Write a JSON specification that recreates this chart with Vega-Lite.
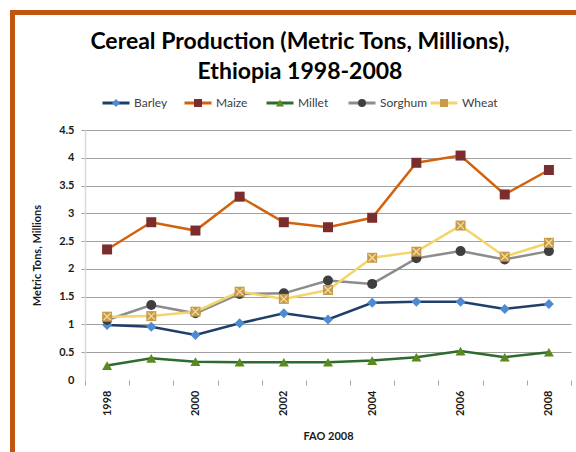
{
  "$schema": "https://vega.github.io/schema/vega-lite/v6.json",
  "autosize": {"type": "none"},
  "width": 486,
  "height": 250,
  "padding": {"left": 85, "top": 130, "right": 5, "bottom": 72},
  "background": "white",
  "title": {
    "text": ["Cereal Production (Metric Tons, Millions),", "Ethiopia 1998-2008"],
    "font": "Lato",
    "fontSize": 23,
    "fontWeight": "bold",
    "color": "#000000",
    "anchor": "middle",
    "frame": "group",
    "dx": -28,
    "offset": -74,
    "lineHeight": 30
  },
  "data": {
    "values": [
      {"year": "1998", "crop": "Barley", "value": 0.99},
      {"year": "1999", "crop": "Barley", "value": 0.96},
      {"year": "2000", "crop": "Barley", "value": 0.81},
      {"year": "2001", "crop": "Barley", "value": 1.02},
      {"year": "2002", "crop": "Barley", "value": 1.2},
      {"year": "2003", "crop": "Barley", "value": 1.09},
      {"year": "2004", "crop": "Barley", "value": 1.39},
      {"year": "2005", "crop": "Barley", "value": 1.41},
      {"year": "2006", "crop": "Barley", "value": 1.41},
      {"year": "2007", "crop": "Barley", "value": 1.28},
      {"year": "2008", "crop": "Barley", "value": 1.37},
      {"year": "1998", "crop": "Maize", "value": 2.35},
      {"year": "1999", "crop": "Maize", "value": 2.84},
      {"year": "2000", "crop": "Maize", "value": 2.69},
      {"year": "2001", "crop": "Maize", "value": 3.3},
      {"year": "2002", "crop": "Maize", "value": 2.84},
      {"year": "2003", "crop": "Maize", "value": 2.75},
      {"year": "2004", "crop": "Maize", "value": 2.92},
      {"year": "2005", "crop": "Maize", "value": 3.91},
      {"year": "2006", "crop": "Maize", "value": 4.04},
      {"year": "2007", "crop": "Maize", "value": 3.34},
      {"year": "2008", "crop": "Maize", "value": 3.78},
      {"year": "1998", "crop": "Millet", "value": 0.26},
      {"year": "1999", "crop": "Millet", "value": 0.39},
      {"year": "2000", "crop": "Millet", "value": 0.33},
      {"year": "2001", "crop": "Millet", "value": 0.32},
      {"year": "2002", "crop": "Millet", "value": 0.32},
      {"year": "2003", "crop": "Millet", "value": 0.32},
      {"year": "2004", "crop": "Millet", "value": 0.35},
      {"year": "2005", "crop": "Millet", "value": 0.41},
      {"year": "2006", "crop": "Millet", "value": 0.52},
      {"year": "2007", "crop": "Millet", "value": 0.41},
      {"year": "2008", "crop": "Millet", "value": 0.5},
      {"year": "1998", "crop": "Sorghum", "value": 1.08},
      {"year": "1999", "crop": "Sorghum", "value": 1.35},
      {"year": "2000", "crop": "Sorghum", "value": 1.2},
      {"year": "2001", "crop": "Sorghum", "value": 1.55},
      {"year": "2002", "crop": "Sorghum", "value": 1.56},
      {"year": "2003", "crop": "Sorghum", "value": 1.79},
      {"year": "2004", "crop": "Sorghum", "value": 1.73},
      {"year": "2005", "crop": "Sorghum", "value": 2.19},
      {"year": "2006", "crop": "Sorghum", "value": 2.32},
      {"year": "2007", "crop": "Sorghum", "value": 2.17},
      {"year": "2008", "crop": "Sorghum", "value": 2.32},
      {"year": "1998", "crop": "Wheat", "value": 1.14},
      {"year": "1999", "crop": "Wheat", "value": 1.15},
      {"year": "2000", "crop": "Wheat", "value": 1.23},
      {"year": "2001", "crop": "Wheat", "value": 1.59},
      {"year": "2002", "crop": "Wheat", "value": 1.46},
      {"year": "2003", "crop": "Wheat", "value": 1.62},
      {"year": "2004", "crop": "Wheat", "value": 2.2},
      {"year": "2005", "crop": "Wheat", "value": 2.31},
      {"year": "2006", "crop": "Wheat", "value": 2.78},
      {"year": "2007", "crop": "Wheat", "value": 2.22},
      {"year": "2008", "crop": "Wheat", "value": 2.47}
    ]
  },
  "encoding": {
    "x": {
      "field": "year",
      "type": "ordinal",
      "scale": {"type": "band", "paddingInner": 0, "paddingOuter": 0},
      "axis": {
        "title": "FAO 2008",
        "titleFontSize": 11,
        "titleFontWeight": "bold",
        "titleColor": "#1a1a1a",
        "titlePadding": 15,
        "labelAngle": -90,
        "labelFontSize": 11,
        "labelFontWeight": "bold",
        "labelColor": "#1a1a1a",
        "labelPadding": 5,
        "labelOverlap": false,
        "labelExpr": "(+datum.value) % 2 === 0 ? datum.label : ''",
        "tickBand": "extent",
        "ticks": true,
        "tickSize": 5,
        "tickColor": "#A6A6A6",
        "tickWidth": 1,
        "domain": false,
        "grid": false
      }
    },
    "y": {
      "field": "value",
      "type": "quantitative",
      "scale": {"domain": [0, 4.5], "nice": false},
      "axis": {
        "title": "Metric Tons, Millions",
        "titleFontSize": 11,
        "titleFontWeight": "bold",
        "titleColor": "#1a1a1a",
        "titlePadding": 16,
        "values": [0, 0.5, 1, 1.5, 2, 2.5, 3, 3.5, 4, 4.5],
        "format": "~g",
        "labelFontSize": 11,
        "labelFontWeight": "bold",
        "labelColor": "#1a1a1a",
        "labelPadding": 7,
        "tickSize": 4,
        "tickColor": "#A0A0A0",
        "tickOpacity": {"condition": {"test": "datum.value === 0", "value": 0}, "value": 1},
        "grid": true,
        "gridColor": "#A0A0A0",
        "gridWidth": 1.2,
        "gridOpacity": {"condition": {"test": "datum.value === 0", "value": 0}, "value": 1},
        "domainColor": "#D9D9D9",
        "domainWidth": 1.5
      }
    }
  },
  "layer": [
    {
      "mark": {"type": "line", "strokeWidth": 2.5},
      "encoding": {
        "color": {
          "field": "crop",
          "type": "nominal",
          "scale": {
            "domain": ["Barley", "Maize", "Millet", "Sorghum", "Wheat"],
            "range": ["#1F3F6A", "#D2620E", "#2E6B2E", "#8C8C8C", "#F3D56A"]
          },
          "legend": {
            "orient": "none",
            "legendX": 16,
            "legendY": -33,
            "direction": "horizontal",
            "title": null,
            "symbolType": "stroke",
            "symbolSize": 729,
            "symbolStrokeWidth": 3,
            "clipHeight": 12,
            "labelOffset": 3,
            "columnPadding": 1,
            "gridAlign": "all",
            "labelFont": "Lato",
            "labelFontSize": 12,
            "labelColor": "#404040",
            "zindex": 0
          }
        }
      }
    },
    {
      "mark": {"type": "point", "filled": true, "size": 100, "opacity": 1},
      "encoding": {
        "fill": {
          "field": "crop",
          "type": "nominal",
          "scale": {"range": ["#4F8BD0", "#7B2C2C", "#5A8A1E", "#3F3F3F", "#C89A4E"]},
          "legend": {
            "orient": "none",
            "legendX": 16,
            "legendY": -33,
            "direction": "horizontal",
            "title": null,
            "symbolSize": 64,
            "symbolStrokeColor": "transparent",
            "symbolStrokeWidth": 22,
            "clipHeight": 12,
            "labelOffset": 0,
            "labelExpr": "''",
            "columnPadding": 52,
            "gridAlign": "all",
            "labelFontSize": 12,
            "zindex": 1
          }
        },
        "shape": {
          "field": "crop",
          "type": "nominal",
          "scale": {"range": ["diamond", "square", "triangle-up", "circle", "square"]},
          "legend": {
            "orient": "none",
            "legendX": 16,
            "legendY": -33,
            "direction": "horizontal",
            "title": null,
            "symbolSize": 64,
            "symbolStrokeColor": "transparent",
            "symbolStrokeWidth": 22,
            "clipHeight": 12,
            "labelOffset": 0,
            "labelExpr": "''",
            "columnPadding": 52,
            "gridAlign": "all",
            "labelFontSize": 12,
            "zindex": 1
          }
        }
      }
    },
    {
      "transform": [{"filter": "datum.crop === 'Wheat'"}],
      "mark": {
        "type": "point",
        "shape": "M-0.7,-0.7L0.7,0.7M0.7,-0.7L-0.7,0.7",
        "filled": false,
        "size": 100,
        "stroke": "#F6E3A0",
        "strokeWidth": 1.2
      },
      "encoding": {
        "opacity": {
          "field": "crop",
          "type": "ordinal",
          "scale": {"range": [1, 1]},
          "legend": {
            "orient": "none",
            "legendX": -72.5,
            "legendY": -117.5,
            "title": null,
            "padding": 340,
            "strokeColor": "#BF5510",
            "symbolSize": 0,
            "symbolStrokeWidth": 0,
            "symbolStrokeColor": "transparent",
            "symbolFillColor": "transparent",
            "symbolOpacity": 0,
            "labelExpr": "''",
            "zindex": 0
          }
        }
      }
    }
  ],
  "config": {
    "font": "Lato",
    "view": {"stroke": null},
    "legend": {"strokeWidth": 5}
  }
}
